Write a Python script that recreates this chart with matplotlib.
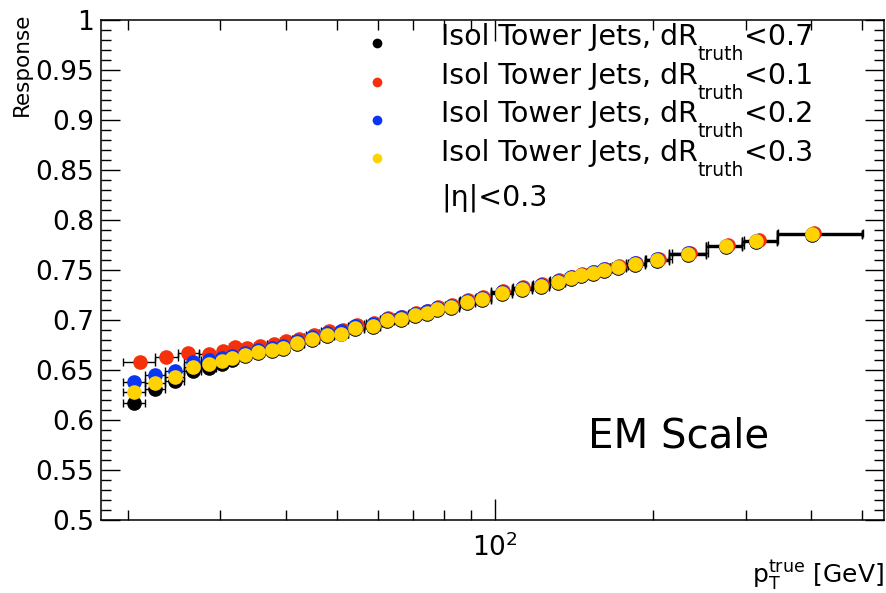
import matplotlib
matplotlib.use("Agg")
import matplotlib.pyplot as plt
from matplotlib.ticker import LogLocator, MultipleLocator, FuncFormatter, NullFormatter
import numpy as np

plt.rcParams['font.family'] = ['DejaVu Sans']

# pT bins (GeV) shared by the dR<0.7, 0.2, 0.3 samples
pt = [20.6, 22.6, 24.6, 26.6, 28.6, 30.2, 31.6, 33.4, 35.4, 37.6,
      39.5, 42.0, 44.8, 47.9, 50.9, 54.3, 58.6, 62.3, 66.2, 70.4,
      74.2, 77.6, 82.4, 88.5, 94.5, 103, 112.5, 122.4, 131.8, 139.6,
      145.8, 153.7, 161.4, 171.5, 184.7, 203.5, 233, 275, 314, 401]
pt_edges = [19.6, 21.6, 23.6, 25.6, 27.6, 29.5, 30.9, 32.4, 34.4, 36.4,
            38.6, 40.6, 43.4, 46.3, 49.4, 52.6, 56.3, 60.4, 64.2, 68.2,
            72.4, 75.9, 79.8, 85.3, 91.5, 98.2, 108, 117.5, 127, 136,
            142.7, 149.7, 157.5, 166, 178, 193, 215, 252, 296, 344, 500]

# dR<0.1 sample has its own binning
pt_r01 = [21.1, 23.7, 26.1, 28.6, 30.4, 32.0, 33.8, 35.8, 38.0, 40.0,
          42.4, 45.2, 48.3, 51.3, 54.7, 59.0, 62.7, 66.6, 70.8, 74.6,
          78.0, 82.8, 89.0, 95.0, 103.5, 113, 123, 132.5, 140.5, 146.5,
          154.5, 162, 172.5, 186, 205, 235, 278, 318, 405]
pt_r01_edges = [19.6, 22.6, 24.9, 27.4, 29.7, 31.2, 32.9, 34.8, 36.9, 39.0,
                41.1, 43.8, 46.7, 49.8, 53.0, 56.8, 61.0, 64.7, 68.7, 72.8,
                76.4, 80.3, 85.9, 92.0, 98.5, 108.5, 118, 127.5, 136.5, 143.5,
                150.5, 158.5, 167, 179, 194, 217, 255, 298, 346, 502]

resp_r07 = [0.617, 0.631, 0.639, 0.649, 0.652, 0.656, 0.660, 0.664, 0.667, 0.669,
            0.671, 0.676, 0.680, 0.684, 0.686, 0.691, 0.693, 0.699, 0.700, 0.704,
            0.706, 0.710, 0.712, 0.717, 0.720, 0.726, 0.730, 0.733, 0.737, 0.741,
            0.744, 0.746, 0.749, 0.752, 0.755, 0.759, 0.765, 0.773, 0.778, 0.785]
resp_r01 = [0.658, 0.663, 0.667, 0.666, 0.669, 0.673, 0.672, 0.674, 0.676, 0.679,
            0.681, 0.685, 0.689, 0.690, 0.695, 0.697, 0.702, 0.703, 0.707, 0.709,
            0.713, 0.715, 0.720, 0.723, 0.729, 0.733, 0.736, 0.740, 0.743, 0.746,
            0.748, 0.751, 0.754, 0.757, 0.761, 0.767, 0.775, 0.780, 0.787]
resp_r02 = [0.638, 0.645, 0.649, 0.658, 0.660, 0.662, 0.664, 0.667, 0.670, 0.672,
            0.674, 0.679, 0.683, 0.687, 0.689, 0.694, 0.696, 0.701, 0.703, 0.706,
            0.709, 0.712, 0.714, 0.719, 0.722, 0.728, 0.732, 0.735, 0.739, 0.743,
            0.745, 0.748, 0.751, 0.753, 0.757, 0.761, 0.767, 0.774, 0.779, 0.786]
resp_r03 = [0.628, 0.637, 0.643, 0.653, 0.656, 0.659, 0.662, 0.665, 0.668, 0.670,
            0.672, 0.677, 0.681, 0.685, 0.686, 0.692, 0.694, 0.700, 0.701, 0.705,
            0.707, 0.711, 0.713, 0.718, 0.721, 0.727, 0.731, 0.734, 0.738, 0.742,
            0.745, 0.747, 0.750, 0.753, 0.756, 0.760, 0.766, 0.774, 0.779, 0.786]

cuts = ["0.7", "0.1", "0.2", "0.3"]
colors = ["#000000", "#f5300a", "#0a35f5", "#ffd200"]

series = [(pt, pt_edges, resp_r07), (pt_r01, pt_r01_edges, resp_r01),
          (pt, pt_edges, resp_r02), (pt, pt_edges, resp_r03)]

fig = plt.figure(figsize=(8.86, 5.93), dpi=100)
ax = fig.add_axes([0.114, 0.123, 0.884, 0.843])

for (x, edges, y), c in zip(series, colors):
    x = np.array(x)
    e = np.array(edges)
    xerr = [x - e[:-1], e[1:] - x]
    ax.errorbar(x, y, xerr=xerr, fmt='o', mfc=c, mec=c, ecolor='black',
                elinewidth=1.0, capsize=3, capthick=1.0, markersize=9.5)

ax.set_xscale('log')
ax.set_xlim(17.8, 551)
ax.set_ylim(0.5, 1.0)

ax.xaxis.set_major_locator(LogLocator(base=10))
ax.xaxis.set_minor_locator(LogLocator(base=10, subs=np.arange(2, 10)))
ax.xaxis.set_major_formatter(FuncFormatter(lambda v, p: "$10^{%d}$" % round(np.log10(v))))
ax.xaxis.set_minor_formatter(NullFormatter())
ax.yaxis.set_major_locator(MultipleLocator(0.05))
ax.yaxis.set_minor_locator(MultipleLocator(0.01))
ax.yaxis.set_major_formatter(FuncFormatter(lambda v, p: "%g" % round(v, 2)))

ax.tick_params(which='both', direction='in', top=True, right=True, width=1.0,
               labelsize=19)
ax.tick_params(axis='y', which='major', length=14, pad=5)
ax.tick_params(axis='y', which='minor', length=7)
ax.tick_params(axis='x', which='major', length=15, pad=10)
ax.tick_params(axis='x', which='minor', length=7)
for s in ax.spines.values():
    s.set_linewidth(1.1)

fig.text(0.025, 0.978, "Response", rotation=90, ha='center', va='top', fontsize=15.5)
fig.text(0.998, 0.03, r"$\mathrm{p}_{\mathrm{T}}^{\mathrm{true}}$ [GeV]",
         ha='right', va='center', fontsize=18)

# legend drawn by hand, ROOT-style: marker, text, large lowered subscript
row_base = [45, 83.5, 122, 160.5]
marker_y = [43, 82, 120, 158]
for cut, c, base, my in zip(cuts, colors, row_base, marker_y):
    ax.plot([0.352], [(520 - my) / 500], 'o', color=c, markersize=7,
            markeredgewidth=0, transform=ax.transAxes, clip_on=False)
    ya = (520 - base) / 500
    t1 = ax.text(0.434, ya, "Isol Tower Jets, dR", transform=ax.transAxes,
                 fontsize=20.5, ha='left', va='baseline')
    t2 = ax.annotate("truth", xy=(1, (520 - base - 15) / 500),
                     xycoords=(t1, 'axes fraction'), fontsize=13.5,
                     ha='left', va='baseline')
    ax.annotate("<" + cut, xy=(1, ya), xycoords=(t2, 'axes fraction'),
                fontsize=20.5, ha='left', va='baseline')
ax.text(0.434, (520 - 205) / 500, "|\u03b7|<0.3", transform=ax.transAxes,
        fontsize=20.5, ha='left', va='baseline')

ax.text(0.622, 0.146, "EM Scale", transform=ax.transAxes, fontsize=29,
        ha='left', va='baseline')

fig.savefig("out.png", dpi=100)
